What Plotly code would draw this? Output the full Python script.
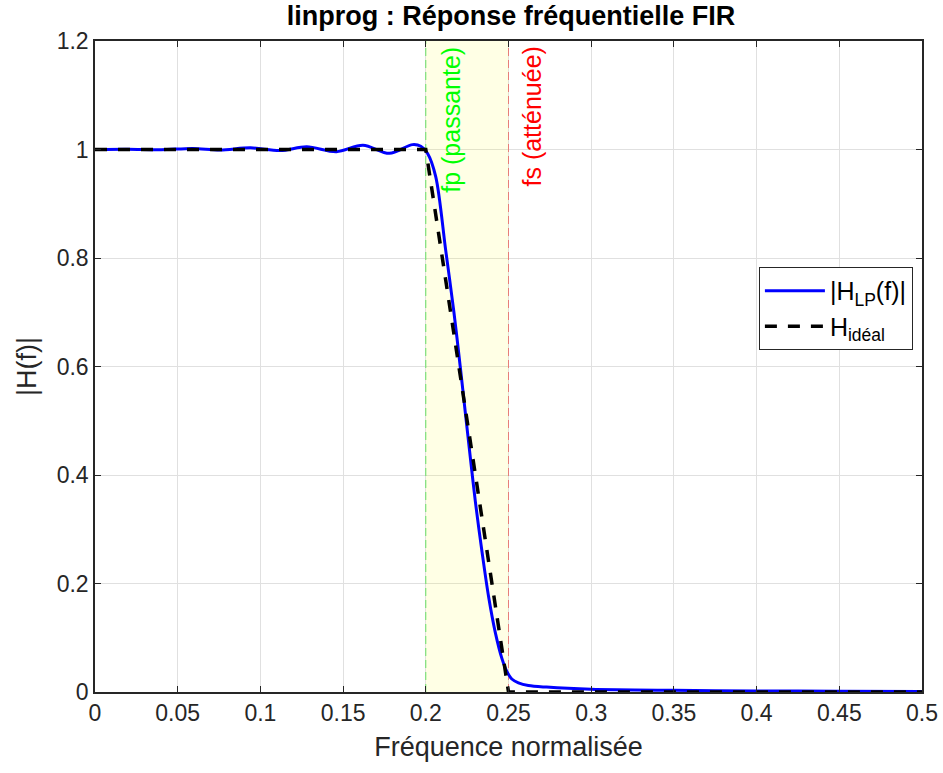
import plotly.graph_objects as go

# Réponse FIR
f_lp = [0.0, 0.02, 0.04, 0.059, 0.0756, 0.094, 0.112, 0.128, 0.146, 0.162, 0.178,
        0.192, 0.197, 0.201, 0.206, 0.212, 0.217, 0.221, 0.224, 0.227, 0.230,
        0.234, 0.238, 0.242, 0.246, 0.249, 0.252, 0.256, 0.262, 0.273, 0.30,
        0.35, 0.40, 0.45, 0.50]
h_lp = [1.000, 1.0005, 0.9995, 1.002, 0.999, 1.003, 0.998, 1.005, 0.996, 1.008, 0.993,
        1.009, 1.006, 0.993, 0.950, 0.815, 0.700, 0.595, 0.512, 0.430, 0.350,
        0.258, 0.175, 0.110, 0.062, 0.038, 0.024, 0.017, 0.012, 0.009, 0.005,
        0.003, 0.002, 0.0015, 0.001]

# Réponse idéale
f_ideal = [0.0, 0.2, 0.25, 0.5]
h_ideal = [1.0, 1.0, 0.0, 0.0]

fp = 0.2
fs = 0.25

x_ticks = [0, 0.05, 0.1, 0.15, 0.2, 0.25, 0.3, 0.35, 0.4, 0.45, 0.5]
x_labels = ["0", "0.05", "0.1", "0.15", "0.2", "0.25", "0.3", "0.35", "0.4", "0.45", "0.5"]
y_ticks = [0, 0.2, 0.4, 0.6, 0.8, 1, 1.2]
y_labels = ["0", "0.2", "0.4", "0.6", "0.8", "1", "1.2"]

FONT = "Liberation Sans, Arial, Helvetica, sans-serif"
AX = "#262626"

fig = go.Figure()
fig.add_trace(go.Scatter(
    x=f_lp, y=h_lp, mode="lines", name="|H<sub>LP</sub>(f)|",
    line=dict(color="#0000FF", width=3, shape="spline", smoothing=0.9),
))
fig.add_trace(go.Scatter(
    x=f_ideal, y=h_ideal, mode="lines", name="H<sub>idéal</sub>",
    line=dict(color="#000000", width=3.5, dash="12px,11px"),
))

fig.add_shape(type="rect", xref="x", yref="y", x0=fp, x1=fs, y0=0, y1=1.2,
              fillcolor="rgba(255,255,0,0.1)", line=dict(width=0), layer="between")
fig.add_shape(type="line", xref="x", yref="y", x0=fp, x1=fp, y0=0, y1=1.2,
              line=dict(color="rgba(0,220,0,0.55)", width=1, dash="8px,4px"), layer="between")
fig.add_shape(type="line", xref="x", yref="y", x0=fs, x1=fs, y0=0, y1=1.2,
              line=dict(color="rgba(235,60,60,0.6)", width=1, dash="8px,4px"), layer="between")

fig.add_annotation(x=fp, y=1.2, xref="x", yref="y", text="fp (passante)", textangle=-90,
                   showarrow=False, xanchor="center", yanchor="top", xshift=25, yshift=-4,
                   font=dict(family=FONT, size=25, color="#00FF00"))
fig.add_annotation(x=fs, y=1.2, xref="x", yref="y", text="fs (atténuée)", textangle=-90,
                   showarrow=False, xanchor="center", yanchor="top", xshift=23, yshift=-4,
                   font=dict(family=FONT, size=25, color="#FF0000"))

fig.update_layout(
    width=943, height=773,
    margin=dict(l=95, r=21, t=41, b=81, autoexpand=False),
    paper_bgcolor="white", plot_bgcolor="white",
    font=dict(family=FONT, size=23, color=AX),
    title=dict(text="<b>linprog : Réponse fréquentielle FIR</b>", x=0.503, xref="paper",
               xanchor="center", y=1, yref="container", yanchor="top", pad=dict(t=6),
               font=dict(family=FONT, size=27, color="#000000")),
    showlegend=True,
    legend=dict(x=0.989, y=0.653, xanchor="right", yanchor="top",
                bgcolor="white", bordercolor=AX, borderwidth=1,
                font=dict(family=FONT, size=25, color="#000000"),
                itemwidth=60, tracegroupgap=4),
)
fig.update_xaxes(
    range=[0, 0.5], tickvals=x_ticks, ticktext=x_labels, automargin=False,
    showgrid=True, gridcolor="#E0E0E0", gridwidth=1,
    showline=True, linecolor=AX, linewidth=1.5, mirror="ticks",
    ticks="inside", ticklen=6, tickcolor=AX, zeroline=False,
    tickfont=dict(size=23),
    title=dict(text="Fréquence normalisée", font=dict(size=27, color=AX), standoff=12),
)
fig.update_yaxes(
    range=[0, 1.2], tickvals=y_ticks, ticktext=y_labels, automargin=False,
    showgrid=True, gridcolor="#E0E0E0", gridwidth=1,
    showline=True, linecolor=AX, linewidth=1.5, mirror="ticks",
    ticks="inside", ticklen=6, tickcolor=AX, zeroline=False,
    tickfont=dict(size=23),
    title=dict(text="|H(f)|", font=dict(size=27, color=AX), standoff=12),
)

fig.write_html("out.html")
